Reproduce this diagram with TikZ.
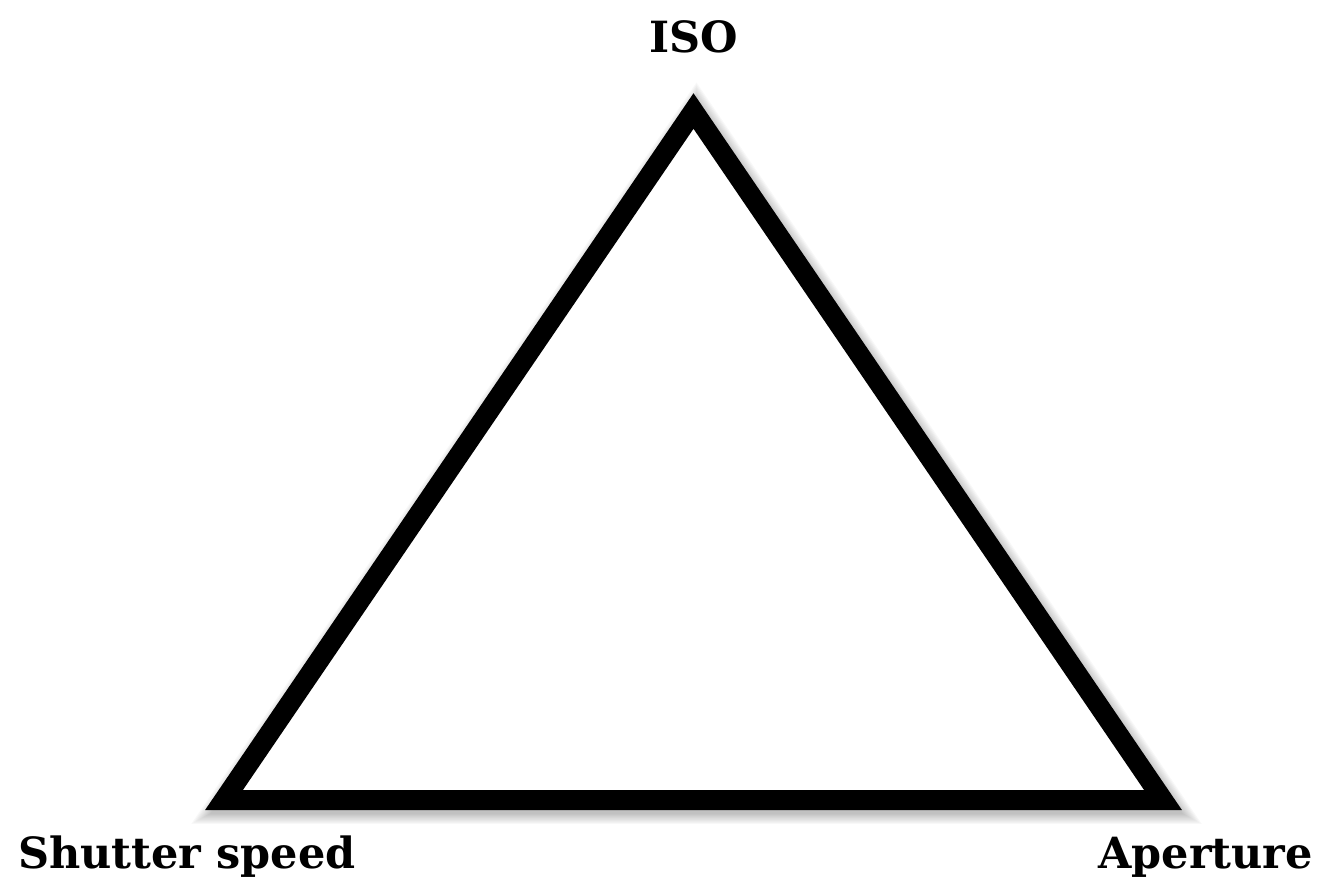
\documentclass[tikz,border=0pt]{standalone}
\usepackage{fontspec}
\setmainfont{DejaVu Serif}
\begin{document}
\begin{tikzpicture}[x=1pt,y=-1pt,
  lbl/.style={inner sep=0pt,font=\fontsize{43}{43}\selectfont\bfseries},
  tri/.style={line width=20pt,line join=miter,draw=black,fill=white}]
\useasboundingbox (0,0) rectangle (1322,880);
\coordinate (T) at (693.5,111);
\coordinate (L) at (224,800);
\coordinate (R) at (1163,800);
% soft shadow of the whole shape, offset to lower right
\foreach \k in {0,...,9}{
  \filldraw[line width={18pt+2.2*\k pt},line join=miter,black,opacity=0.028]
    ([shift={(3,5)}]T) -- ([shift={(3,5)}]L) -- ([shift={(3,5)}]R) -- cycle;
}
\draw[tri] (T) -- (L) -- (R) -- cycle;
\node[lbl,anchor=base] (iso) at (693.5,53) {ISO};
\node[lbl,anchor=base west] (shutter) at (18,868) {Shutter speed};
\node[lbl,anchor=base east] (aperture) at (1313,868) {Aperture};
\end{tikzpicture}
\end{document}
